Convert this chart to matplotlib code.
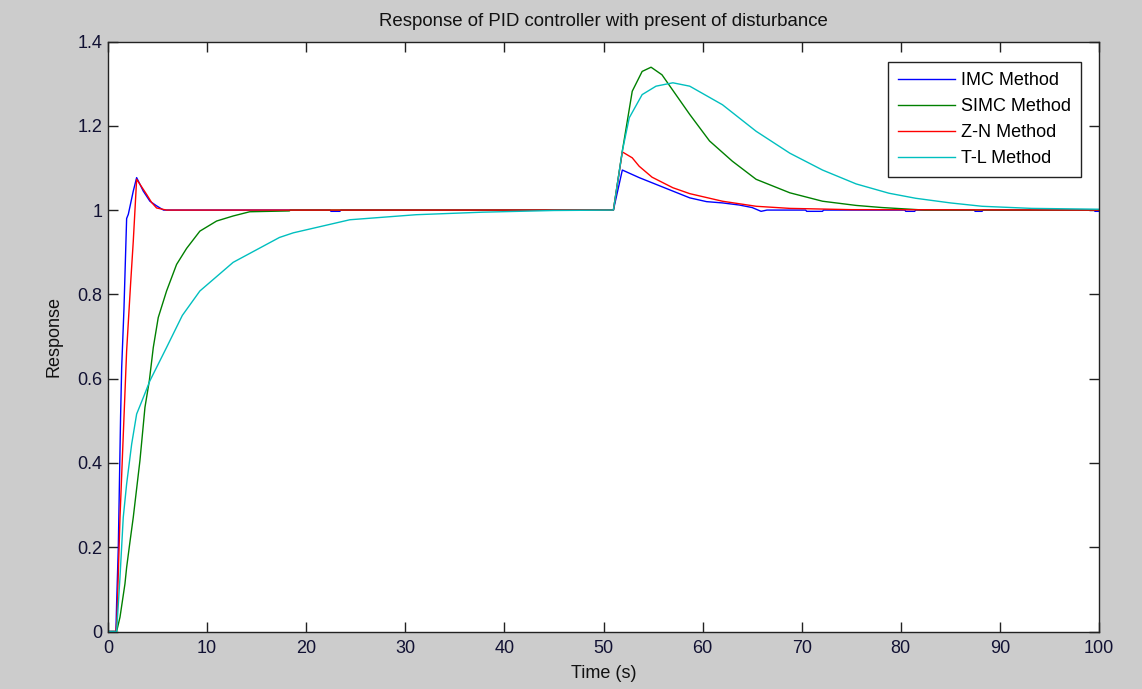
import matplotlib
matplotlib.use("Agg")
import matplotlib.pyplot as plt

plt.rcParams['font.family'] = ['Liberation Sans', 'DejaVu Sans']

# ---- data ----
imc_t = [0.0, 0.8, 0.87, 1.04, 1.27, 1.38, 1.61, 1.88, 2.05, 2.55, 2.89, 3.56, 4.23, 4.9, 5.6,
         22.4, 22.5, 23.4, 23.5, 51.0, 51.9, 53.6, 55.3, 57.0, 58.7, 60.4, 62.0, 63.7, 65.0,
         65.9, 66.5, 70.4, 70.5, 72.1, 72.2, 80.4, 80.5, 81.4, 81.5, 87.4, 87.5, 88.2, 88.3,
         99.5, 99.6, 100.0]
imc_y = [0.0, 0.0, 0.066, 0.2, 0.51, 0.626, 0.765, 0.98, 0.99, 1.045, 1.077, 1.045, 1.021, 1.01, 1.0,
         1.0, 0.997, 0.997, 1.0, 1.0, 1.095, 1.077, 1.061, 1.045, 1.029, 1.02, 1.017, 1.012, 1.006,
         0.997, 1.0, 1.0, 0.997, 0.997, 1.0, 1.0, 0.997, 0.997, 1.0, 1.0, 0.997, 0.997, 1.0,
         1.0, 0.997, 0.997]

simc_t = [0.0, 0.87, 1.21, 1.71, 1.88, 2.2, 2.55, 3.22, 3.73, 4.17, 4.57, 5.07, 5.91, 6.92, 7.93,
          9.27, 10.96, 12.63, 14.3, 18.3, 18.4, 51.0, 51.9, 52.9, 53.9, 54.8, 55.9, 57.3, 58.7,
          60.7, 63.0, 65.4, 68.8, 72.1, 75.5, 78.1, 82.4, 100.0]
simc_y = [0.0, 0.0, 0.034, 0.113, 0.152, 0.21, 0.271, 0.405, 0.532, 0.595, 0.674, 0.745, 0.808, 0.871, 0.909,
          0.95, 0.974, 0.986, 0.996, 0.998, 1.0, 1.0, 1.14, 1.282, 1.329, 1.339, 1.321, 1.274, 1.227,
          1.164, 1.116, 1.073, 1.041, 1.021, 1.011, 1.006, 1.0, 1.0]

zn_t = [0.0, 0.8, 0.9, 1.04, 1.21, 1.48, 1.88, 2.28, 2.55, 2.89, 3.4, 3.9, 4.4, 4.9, 5.9,
        51.0, 51.9, 52.9, 53.6, 54.9, 57.0, 58.7, 62.0, 65.4, 68.8, 75.0, 100.0]
zn_y = [0.0, 0.0, 0.03, 0.137, 0.27, 0.43, 0.666, 0.825, 0.926, 1.073, 1.055, 1.037, 1.018, 1.005, 1.0,
        1.0, 1.138, 1.124, 1.104, 1.078, 1.053, 1.039, 1.021, 1.009, 1.004, 1.001, 1.0]

tl_t = [0.0, 0.87, 1.21, 1.54, 1.88, 2.39, 2.89, 3.56, 4.23, 5.91, 7.5, 9.27, 12.63, 17.3, 18.7,
        24.4, 31.1, 37.8, 45.0, 51.0, 51.9, 52.6, 53.9, 55.3, 57.0, 58.7, 62.0, 65.4, 68.8,
        72.1, 75.5, 78.8, 81.5, 85.0, 88.2, 93.2, 100.0]
tl_y = [0.0, 0.0, 0.129, 0.271, 0.35, 0.445, 0.516, 0.555, 0.595, 0.674, 0.75, 0.808, 0.876, 0.935, 0.946,
        0.977, 0.989, 0.995, 0.999, 1.0, 1.14, 1.219, 1.274, 1.294, 1.302, 1.294, 1.25, 1.187, 1.135,
        1.095, 1.062, 1.04, 1.028, 1.017, 1.009, 1.004, 1.002]

labels = ['IMC Method', 'SIMC Method', 'Z-N Method', 'T-L Method']
colors = ['#0000ff', '#008000', '#ff0000', '#00bfbf']

x_ticks = [0, 10, 20, 30, 40, 50, 60, 70, 80, 90, 100]
y_ticks = [0, 0.2, 0.4, 0.6, 0.8, 1.0, 1.2, 1.4]
y_ticklabels = ['0', '0.2', '0.4', '0.6', '0.8', '1', '1.2', '1.4']

# ---- figure ----
W, H = 1142, 689
fig = plt.figure(figsize=(W / 100, H / 100), dpi=100, facecolor='#cccccc')
ax = fig.add_axes([108 / W, (H - 631.5) / H, (1099 - 108) / W, (631.5 - 41.5) / H])
ax.set_facecolor('white')

for t, y, lab, c in zip([imc_t, simc_t, zn_t, tl_t], [imc_y, simc_y, zn_y, tl_y], labels, colors):
    ax.plot(t, y, color=c, lw=1.0, label=lab)

ax.set_xlim(0, 100)
ax.set_ylim(0, 1.4)
ax.set_xticks(x_ticks)
ax.set_xticklabels([str(v) for v in x_ticks])
ax.set_yticks(y_ticks)
ax.set_yticklabels(y_ticklabels)

fs = 13
ax.tick_params(direction='in', length=7, width=1, top=True, right=True,
               labelsize=fs, colors='#222222', labelcolor='#111133')
ax.tick_params(axis='x', pad=6)
ax.tick_params(axis='y', pad=4)
for s in ax.spines.values():
    s.set_color('#222222')
    s.set_linewidth(1.0)

ax.set_title('Response of PID controller with present of disturbance', fontsize=13.4, pad=11, color='#111111')
ax.set_xlabel('Time (s)', fontsize=fs, labelpad=6, color='#111111')
ax.set_ylabel('Response', fontsize=fs, labelpad=11, color='#111111')

leg = ax.legend(loc='upper right', bbox_to_anchor=((1081 - 108) / 991, (631.5 - 62) / 590),
                borderaxespad=0, fontsize=fs, frameon=True, fancybox=False,
                edgecolor='#222222', facecolor='white', framealpha=1,
                handlelength=3.15, handletextpad=0.35, labelspacing=0.5, borderpad=0.55)
leg.get_frame().set_linewidth(1.0)

fig.savefig('out.png', dpi=100, facecolor=fig.get_facecolor())
